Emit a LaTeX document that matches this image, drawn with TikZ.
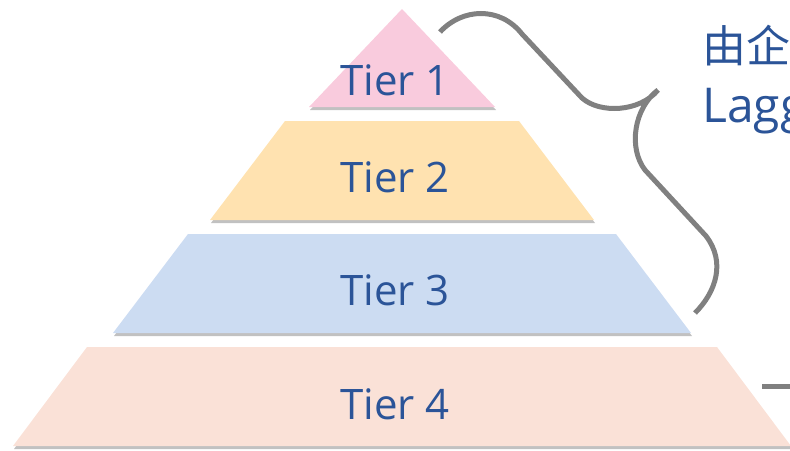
\documentclass[tikz,border=0pt]{standalone}
\usepackage{fontspec}
\usepackage{xcolor}
\setmainfont{Open Sans}
\newfontfamily\cjk{Noto Sans CJK SC}
\usetikzlibrary{shadows}

\definecolor{tierone}{RGB}{249,203,221}
\definecolor{tiertwo}{RGB}{255,226,176}
\definecolor{tierthree}{RGB}{204,220,242}
\definecolor{tierfour}{RGB}{250,225,215}
\definecolor{tiertext}{RGB}{43,84,152}
\definecolor{bracegray}{RGB}{128,128,128}

\tikzset{
    tier/.style={fill=#1, drop shadow={shadow xshift=1pt, shadow yshift=-3pt, opacity=0.35, fill=black!70}},
    tierlabel/.style={text=tiertext, font=\fontsize{42}{48}\selectfont, inner sep=0pt},
    bracepath/.style={draw=bracegray, line width=5pt}
}

\begin{document}
\begin{tikzpicture}[x=1pt, y=-1pt]
    \useasboundingbox (0,0) rectangle (790,450);
    \foreach \n/\yt/\yb/\ht/\hb/\col in {1/9/107/0/93/tierone, 2/121/220/117/192/tiertwo, 3/234/333/214/289/tierthree, 4/347/446/315/389/tierfour}{
        \path [tier=\col] (402-\ht,\yt) -- (402+\ht,\yt) -- (402+\hb,\yb) -- (402-\hb,\yb) -- cycle;
    }
    \node [tierlabel] (tier1) at (395,80) {Tier 1};
    \node [tierlabel] (tier2) at (395,177) {Tier 2};
    \node [tierlabel] (tier3) at (395,290) {Tier 3};
    \node [tierlabel] (tier4) at (395,404) {Tier 4};

    \draw [bracepath] (440,32) .. controls (462,8) and (500,6) .. (522,34) -- (582,98)
        .. controls (600,114) and (640,112) .. (658,90)
        .. controls (634,108) and (628,148) .. (645,170) -- (706,236)
        .. controls (726,262) and (716,292) .. (695,313);
    \coordinate (rulestart) at (762,386);
    \draw [bracegray, line width=5pt] (rulestart) -- (795,386);

    \node [anchor=base west, text=tiertext, inner sep=0pt, font=\cjk\fontsize{44}{48}\selectfont] (title) at (702,62) {由企};
    \node [anchor=base west, text=tiertext, inner sep=0pt, font=\fontsize{48}{52}\selectfont] (subtitle) at (702,122) {Lagg};
\end{tikzpicture}
\end{document}
